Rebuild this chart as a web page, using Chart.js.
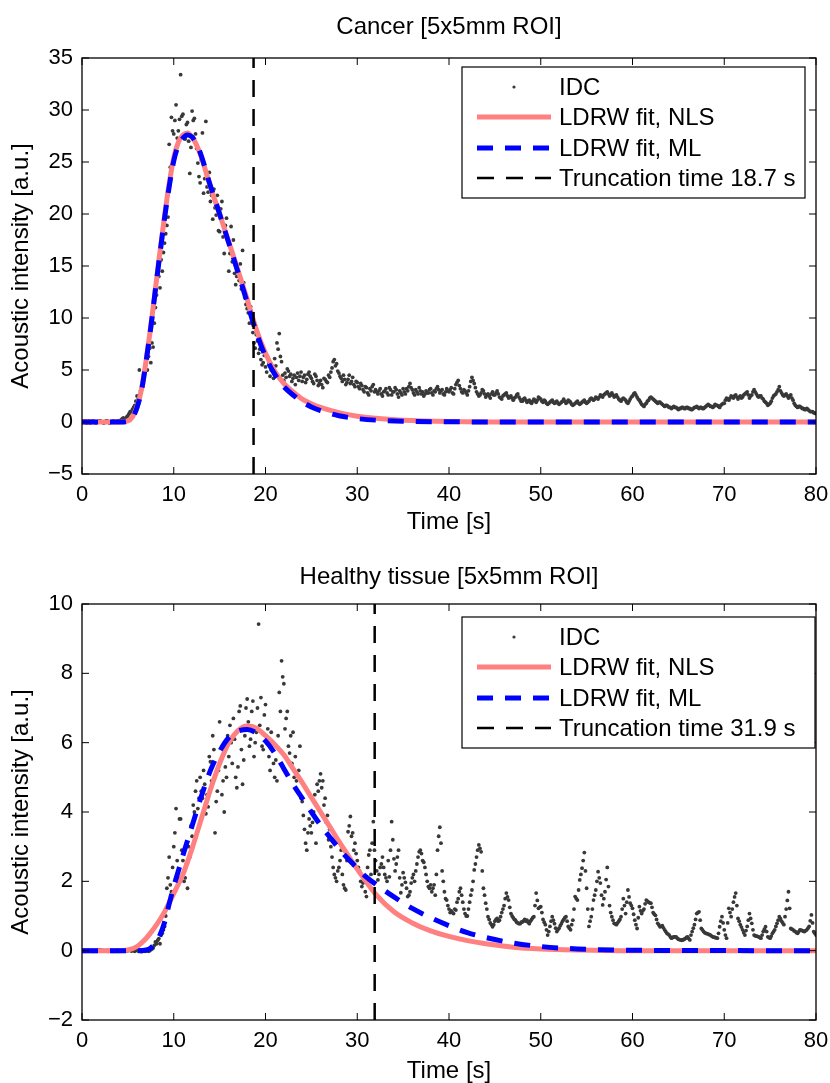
<!DOCTYPE html>
<html><head><meta charset="utf-8">
<script src="https://cdn.jsdelivr.net/npm/chart.js@4.4.1/dist/chart.umd.min.js"></script>
<style>
html,body{margin:0;padding:0;background:#fff;width:830px;height:1083px;overflow:hidden}
canvas{position:absolute;left:0;display:block}
#c1{top:0}
#c2{top:541px}
</style></head><body>
<canvas id="c1" width="830" height="541"></canvas>
<canvas id="c2" width="830" height="542"></canvas>
<script>
// ---------- DATA ----------
const SAMPLE_INTERVAL = 0.25;   // s between samples within one list
const SAMPLE_OFFSET_B = 0.125;  // second list of samples is shifted by half an interval
const xTicks = [0, 10, 20, 30, 40, 50, 60, 70, 80];
const yTicks1 = [-5, 0, 5, 10, 15, 20, 25, 30, 35];
const yTicks2 = [-2, 0, 2, 4, 6, 8, 10];
const titles = ['Cancer [5x5mm ROI]', 'Healthy tissue [5x5mm ROI]'];
const seriesNames = ['IDC', 'LDRW fit, NLS', 'LDRW fit, ML', 'Truncation time'];
const truncation = [18.7, 31.9];

// Cancer IDC at t = 0, 0.25, 0.5 ... (one row per second)
const idcCancerA = [
 0.1,0.0,-0.1,0.1,  0.0,0.1,-0.1,0.0,  0.1,0.0,0.0,0.1,  -0.1,0.0,0.1,0.0,
 0.1,0.2,0.4,0.3,   0.6,1.0,1.2,1.6,   2.5,5.0,3.3,4.3,  5.6,6.3,5.7,7.2,
 11.0,15.3,12.9,14.5, 17.2,18.9,26.7,29.3, 27.7,30.5,28.0,33.4, 29.6,27.2,28.8,23.9,
 29.9,29.2,26.3,23.6, 25.2,22.0,28.9,22.1, 21.2,19.5,20.6,21.8, 18.3,21.2,16.2,19.6,
 14.5,18.8,17.5,13.2, 14.6,15.2,16.5,12.0, 10.9,9.5,10.3,7.6, 8.4,6.6,6.0,5.7,
 5.3,6.2,4.4,5.2,  6.1,7.6,8.5,5.8,  4.0,4.3,4.9,4.6,  4.2,3.6,4.7,4.4,
 3.9,4.5,4.1,4.8,  4.2,3.7,4.4,3.5,  4.0,3.3,4.1,3.8,  4.3,5.2,6.0,5.6,
 4.7,4.2,4.5,3.6,  4.1,3.7,4.3,3.4,  3.8,3.2,3.5,2.9,  3.3,2.6,3.0,3.6,
 3.1,2.7,3.2,2.5,  3.0,2.8,3.3,2.6,  2.9,3.1,2.4,2.8,  3.2,2.7,3.0,3.7,
 3.1,2.6,2.9,3.3,  2.7,2.5,3.0,2.8,  3.2,2.6,2.9,3.4,  2.8,3.1,2.6,3.2,
 2.9,3.3,2.7,3.6,  4.0,3.2,2.8,3.0,  2.6,3.4,4.3,3.7,  2.9,2.5,2.8,3.0,
 2.4,2.7,2.3,2.9,  2.6,3.0,2.4,2.2,  2.6,2.8,2.3,2.5,  2.1,2.4,2.7,2.2,
 2.0,2.3,1.9,2.1,  1.8,2.2,1.9,2.4,  2.2,1.9,2.0,1.7,  1.9,2.1,1.8,2.0,
 1.7,1.9,2.2,1.8,  2.1,1.9,1.6,1.8,  2.0,1.7,1.9,2.1,  1.8,2.0,2.3,2.1,
 2.4,2.2,2.6,2.4,  2.7,2.9,2.5,2.8,  2.4,2.6,2.2,2.0,  2.3,2.1,1.8,2.2,
 2.5,2.8,2.4,2.1,  1.7,1.5,1.8,2.1,  2.4,2.2,2.0,1.8,  1.9,1.7,1.5,1.6,
 1.4,1.3,1.5,1.4,  1.2,1.3,1.4,1.3,  1.4,1.3,1.2,1.4,  1.5,1.3,1.4,1.3,
 1.5,1.7,1.5,1.4,  1.7,1.6,1.4,1.7,  1.8,2.3,2.1,2.5,  2.3,2.6,2.2,2.5,
 2.4,2.7,2.9,2.3,  2.6,3.1,2.7,2.4,  2.5,2.2,1.9,1.6,  1.8,2.3,2.6,2.9,
 3.4,2.8,2.5,2.7,  2.3,2.6,2.1,1.6,  1.4,1.5,1.3,1.2,  1.3,1.1,1.0,0.9,
 0.8
];
// Cancer IDC at t = 0.125, 0.375, 0.625 ... (one row per second)
const idcCancerB = [
 0.0,0.1,0.0,-0.1,  0.1,0.0,0.0,0.1,  0.0,-0.1,0.1,0.0,  0.0,0.1,0.0,0.1,
 0.0,0.3,0.2,0.5,   0.8,0.9,1.4,2.0,   2.2,3.0,4.0,4.8,  5.0,7.1,7.6,9.5,
 12.2,14.0,15.6,16.3, 18.1,19.7,24.5,28.0, 29.0,27.3,29.1,29.4, 27.6,28.6,27.0,26.4,
 29.0,27.7,24.9,23.0, 27.8,23.4,22.6,24.0, 21.8,22.4,19.9,18.4, 20.5,17.8,18.9,17.4,
 16.2,15.4,14.3,14.0, 13.6,12.8,13.4,11.3, 10.5,11.1,8.6,7.1, 7.8,7.0,5.5,6.4,
 4.8,5.6,5.0,4.2,  5.4,7.0,6.3,4.5,  4.7,5.1,4.4,3.9,  4.5,4.3,4.0,4.8,
 4.3,3.8,4.6,4.4,  3.9,4.6,4.0,3.7,  3.6,4.2,3.9,4.5,  4.8,5.8,5.4,4.9,
 4.4,3.9,4.1,3.8,  4.5,3.9,3.6,3.9,  3.4,3.7,3.1,3.4,  2.8,3.2,3.4,2.9,
 2.9,3.0,2.7,2.9,  3.2,2.6,3.1,2.9,  3.3,2.7,3.0,2.6,  2.9,3.2,3.4,3.3,
 2.8,3.1,2.7,3.0,  2.9,2.7,2.8,3.1,  2.8,3.0,3.2,3.1,  3.0,2.7,2.9,3.0,
 3.1,2.8,3.2,3.8,  3.5,2.9,3.1,2.8,  3.0,3.9,4.0,3.3,  2.7,2.6,3.1,2.7,
 2.6,2.5,2.7,2.6,  2.8,2.7,2.3,2.5,  2.7,2.5,2.4,2.3,  2.3,2.6,2.4,2.0,
 2.2,2.1,2.0,1.9,  2.0,2.1,2.1,2.3,  2.0,2.1,1.8,1.8,  2.0,1.9,1.9,1.8,
 1.8,2.0,2.0,1.9,  2.0,1.7,1.7,1.9,  1.8,1.8,2.0,1.9,  1.9,2.2,2.2,2.2,
 2.3,2.4,2.5,2.6,  2.8,2.7,2.6,2.6,  2.5,2.4,2.1,2.2,  2.2,1.9,2.0,2.4,
 2.7,2.6,2.2,1.9,  1.6,1.7,2.0,2.3,  2.3,2.1,1.9,1.9,  1.8,1.6,1.6,1.5,
 1.4,1.4,1.4,1.3,  1.3,1.4,1.3,1.4,  1.3,1.2,1.3,1.4,  1.4,1.4,1.3,1.4,
 1.6,1.6,1.5,1.5,  1.6,1.5,1.6,1.8,  2.1,2.2,2.3,2.4,  2.5,2.4,2.4,2.3,
 2.6,2.8,2.6,2.5,  2.9,2.9,2.5,2.5,  2.3,2.0,1.8,1.7,  2.0,2.5,2.7,3.1,
 3.0,2.6,2.6,2.5,  2.5,2.3,1.8,1.5,  1.5,1.4,1.3,1.2,  1.2,1.0,1.0,0.85
];

// Healthy tissue IDC at t = 0, 0.25, 0.5 ... (one row per second)
const idcHealthyA = [
 0.0,0.02,-0.01,0.01, 0.0,-0.02,0.01,0.0, 0.02,0.0,-0.01,0.01, 0.0,0.01,-0.02,0.0,
 0.01,0.0,0.02,-0.01, 0.0,0.03,0.01,-0.02, 0.02,0.0,-0.03,0.01, 0.0,-0.02,0.03,0.08,
 0.25,0.3,0.2,0.5,  0.7,1.8,2.7,1.7,  3.0,4.1,2.1,3.8,  2.6,2.1,1.8,2.7,
 3.3,4.0,4.9,4.4,  4.6,5.2,3.95,4.15, 5.45,6.2,3.4,4.6, 6.6,4.5,4.0,5.0,
 5.6,6.0,6.7,5.0,  5.3,7.06,4.8,6.2, 7.26,5.9,6.9,5.6, 6.3,9.42,7.3,5.8,
 7.1,6.4,5.2,5.8,  5.0,4.9,7.45,8.36, 7.7,6.7,5.9,6.2, 6.3,5.6,4.6,5.9,
 4.3,3.5,2.9,3.8,  3.4,4.0,3.1,4.6,  5.1,4.9,4.4,3.9,  3.5,2.7,2.2,2.0,
 2.4,2.9,1.9,1.75, 3.43,3.87,3.4,3.1, 2.6,2.3,1.85,2.1, 1.56,2.76,2.2,3.72,
 2.6,2.04,2.4,2.7, 2.2,2.0,2.13,3.72, 2.65,2.5,2.9,1.67, 2.25,1.97,1.56,1.7,
 2.1,2.0,2.5,2.85, 2.8,2.55,2.2,1.85, 1.9,1.8,1.6,2.9, 3.56,2.3,1.7,1.46,
 1.2,1.15,1.07,1.17, 1.5,1.8,1.4,1.07, 1.0,1.4,1.75,2.33, 2.7,3.05,2.85,1.8,
 1.37,0.98,0.8,0.69, 0.85,0.93,0.88,1.1, 1.3,1.66,1.46,1.07, 0.95,0.88,0.8,0.78,
 0.83,0.9,0.88,0.78, 0.9,0.98,1.66,1.22, 1.27,0.9,0.75,0.45, 0.7,0.98,0.78,0.55,
 0.65,0.78,0.9,0.98, 0.7,0.6,0.88,1.56, 1.46,2.04,2.38,2.83, 1.8,0.7,0.98,1.46,
 1.75,2.28,1.95,1.32, 1.7,2.4,1.3,0.98, 0.79,0.75,0.85,0.98, 1.5,1.07,1.75,1.37,
 1.22,0.88,0.64,1.27, 1.07,1.2,1.46,1.4, 1.37,1.1,1.02,0.79, 0.69,0.72,0.6,0.5,
 0.45,0.36,0.4,0.4, 0.33,0.31,0.31,0.35, 0.4,0.31,0.55,0.75, 1.07,1.12,0.64,0.55,
 0.5,0.48,0.45,0.4, 0.38,0.36,0.69,0.98, 0.6,0.36,1.22,0.98, 1.4,1.66,0.93,0.75,
 0.6,0.45,0.7,1.07, 0.79,0.45,0.42,0.4, 0.36,0.55,0.69,0.4, 0.36,0.5,0.6,0.79,
 0.98,0.85,0.75,1.2, 1.7,0.64,0.6,0.55, 0.5,0.6,0.58,0.55, 0.6,0.7,1.03,0.55,
 0.45
];
// Healthy tissue IDC at t = 0.125, 0.375, 0.625 ... (one row per second)
const idcHealthyB = [
 0.01,0.0,0.02,-0.01, 0.01,0.0,-0.01,0.02, 0.0,0.01,0.0,-0.02, 0.01,-0.01,0.0,0.02,
 0.0,-0.01,0.01,0.0, 0.02,-0.01,0.0,0.01, -0.01,0.02,0.0,-0.02, 0.01,0.0,0.05,0.15,
 0.2,0.35,0.45,0.6,  1.0,2.1,1.9,2.4,  3.4,2.6,3.8,2.9,  2.0,2.5,3.0,3.6,
 4.2,4.6,4.1,5.0,  4.4,4.8,4.5,5.6,  4.9,5.8,4.3,5.2,  5.5,4.9,5.3,6.2,
 6.5,5.4,6.1,4.7,  6.9,5.8,5.5,7.0,  6.6,6.1,7.2,6.0,  7.0,6.5,5.9,6.8,
 6.0,5.6,6.3,5.4,  5.5,6.2,6.9,7.9,  6.4,6.9,5.7,5.4,  5.0,4.9,5.2,4.4,
 3.9,3.1,3.4,3.6,  3.7,4.5,4.8,4.9,  4.7,4.2,3.7,3.2,  3.0,2.4,2.1,2.3,
 2.6,2.2,1.8,2.6,  3.6,3.3,2.9,2.8,  2.4,2.0,1.95,1.7, 2.4,2.9,3.1,2.9,
 2.3,2.2,2.5,2.4,  2.1,2.6,2.9,3.2,  2.3,2.7,2.1,1.9,  2.1,1.8,1.6,1.95,
 2.2,2.3,2.7,2.9,  2.6,2.4,2.0,1.8,  1.7,1.9,2.2,3.3,  3.1,2.0,1.5,1.3,
 1.1,1.1,1.2,1.4,  1.7,1.6,1.2,1.0,  1.2,1.6,2.0,2.5,  2.9,2.95,2.3,1.6,
 1.2,0.9,0.75,0.75, 0.9,0.85,0.98,1.2, 1.5,1.55,1.25,1.0, 0.9,0.82,0.78,0.82,
 0.86,0.85,0.82,0.85, 0.95,1.3,1.45,1.25, 1.1,0.82,0.6,0.55, 0.85,0.88,0.65,0.6,
 0.72,0.85,0.95,0.85, 0.65,0.75,1.2,1.5, 1.75,2.2,2.6,2.3, 1.2,0.85,1.2,1.6,
 2.0,2.1,1.6,1.5,  2.05,1.85,1.1,0.88, 0.77,0.8,0.9,1.2, 1.3,1.4,1.55,1.3,
 1.05,0.75,0.95,1.15, 1.15,1.35,1.43,1.38, 1.25,1.05,0.9,0.74, 0.7,0.66,0.55,0.48,
 0.4,0.38,0.4,0.36, 0.32,0.3,0.33,0.38, 0.35,0.45,0.65,0.9, 1.1,0.88,0.6,0.52,
 0.49,0.46,0.42,0.39, 0.37,0.5,0.85,0.8, 0.45,0.8,1.1,1.2, 1.55,1.3,0.85,0.68,
 0.52,0.58,0.88,0.93, 0.6,0.43,0.41,0.38, 0.45,0.62,0.55,0.38, 0.42,0.55,0.7,0.88,
 0.92,0.8,0.98,1.45, 1.22,0.62,0.57,0.52, 0.55,0.59,0.56,0.58, 0.65,0.86,0.8,0.5
];

// Fitted curves
const fitTimesCancer = [0,4,5,5.5,6,6.5,7,7.5,8,8.5,9,9.5,10,10.5,11,11.5,12,12.5,13,14,15,16,17,18,19,20,21,22,23,24,25,26,28,30,32,35,40,50,80];
const nlsCancer = [0,0,0.1,0.5,1.5,3.2,6.0,9.2,12.8,16.4,19.8,22.9,25.4,26.9,27.6,27.8,27.4,26.6,25.5,22.6,20.0,17.3,14.6,11.8,8.9,6.6,4.9,3.7,2.9,2.2,1.75,1.4,0.9,0.55,0.35,0.18,0.06,0.01,0];
const mlCancer  = [0,0,0.05,0.4,1.4,3.1,5.9,9.1,12.7,16.2,19.6,22.6,25.1,26.6,27.3,27.6,27.4,26.7,25.6,22.7,20.0,17.2,14.4,11.5,8.6,6.3,4.6,3.4,2.6,1.95,1.45,1.1,0.6,0.33,0.18,0.08,0.02,0,0];

const fitTimesHealthy = [0,4,5,6,7,7.5,8,8.5,9,9.5,10,10.5,11,12,13,14,15,16,17,18,19,20,21,22,23,24,25,26,27,28,29,30,31,32,34,36,38,40,42,44,47,50,54,60,80];
const nlsHealthy = [0,0,0.02,0.12,0.36,0.52,0.7,0.9,1.12,1.38,1.65,1.92,2.2,2.95,3.8,4.65,5.4,6.0,6.35,6.48,6.42,6.2,5.95,5.65,5.25,4.85,4.42,4.0,3.58,3.15,2.75,2.35,1.98,1.63,1.12,0.8,0.57,0.41,0.29,0.2,0.1,0.05,0.02,0,0];
const mlHealthy  = [0,0,0,0,0.02,0.08,0.22,0.45,0.82,1.35,1.85,2.3,2.75,3.6,4.45,5.2,5.75,6.15,6.33,6.38,6.28,6.05,5.7,5.25,4.8,4.4,4.0,3.62,3.28,2.95,2.65,2.38,2.12,1.92,1.55,1.22,0.95,0.72,0.52,0.38,0.22,0.12,0.05,0.01,0];

// ---------- RENDERING ----------
const FONT = '"Liberation Sans", Arial, Helvetica, sans-serif';

function sampled(values, offset) { return values.map((v, i) => ({ x: offset + i * SAMPLE_INTERVAL, y: v })); }
function merged(a, b) { return sampled(a, 0).concat(sampled(b, SAMPLE_OFFSET_B)).sort((p, q) => p.x - q.x); }
function paired(ts, vs) { return ts.map((t, i) => ({ x: t, y: vs[i] })); }
function fmt(v) { return v < 0 ? '\u2212' + Math.abs(v) : String(v); }

const matlabFrame = {
  id: 'matlabFrame',
  afterDraw(chart, args, opts) {
    const { ctx, chartArea: a } = chart;
    const xs = chart.scales.x, ys = chart.scales.y;
    ctx.save();
    ctx.strokeStyle = '#000';
    ctx.lineWidth = 1.3;
    ctx.strokeRect(a.left, a.top, a.right - a.left, a.bottom - a.top);
    const L = 7;
    ctx.lineWidth = 1;
    ctx.beginPath();
    xs.ticks.forEach(t => {
      const px = xs.getPixelForValue(t.value);
      ctx.moveTo(px, a.bottom); ctx.lineTo(px, a.bottom - L);
      ctx.moveTo(px, a.top); ctx.lineTo(px, a.top + L);
    });
    ys.ticks.forEach(t => {
      const py = ys.getPixelForValue(t.value);
      ctx.moveTo(a.left, py); ctx.lineTo(a.left + L, py);
      ctx.moveTo(a.right, py); ctx.lineTo(a.right - L, py);
    });
    ctx.stroke();

    // legend box
    const lg = opts.box;
    if (lg) {
      ctx.fillStyle = '#fff';
      ctx.fillRect(lg.x, lg.y, lg.w, lg.h);
      ctx.lineWidth = 1.2;
      ctx.strokeStyle = '#000';
      ctx.strokeRect(lg.x, lg.y, lg.w, lg.h);
      const ds = chart.data.datasets;
      const rowY = [20, 50, 81, 111];
      ctx.font = '24px ' + FONT;
      ctx.textBaseline = 'middle';
      ctx.textAlign = 'left';
      ds.forEach((d, i) => {
        const cy = lg.y + rowY[i];
        const x0 = lg.x + 15, x1 = lg.x + 89;
        if (i === 0) {
          ctx.fillStyle = d.pointBackgroundColor;
          ctx.beginPath(); ctx.arc(lg.x + 52, cy, 1.6, 0, Math.PI * 2); ctx.fill();
        } else {
          ctx.save();
          ctx.strokeStyle = d.borderColor;
          ctx.lineWidth = d.borderWidth;
          ctx.setLineDash(d.borderDash || []);
          ctx.beginPath(); ctx.moveTo(x0, cy); ctx.lineTo(x1, cy); ctx.stroke();
          ctx.restore();
        }
        ctx.fillStyle = '#000';
        ctx.fillText(d.label, lg.x + 97, cy + 1);
      });
    }
    ctx.restore();
  }
};

function noSidePadding(s) { s.paddingLeft = 0; s.paddingRight = 0; }

function makeChart(id, c) {
  return new Chart(document.getElementById(id), {
    type: 'scatter',
    data: {
      datasets: [
        { label: seriesNames[0], type: 'scatter', data: merged(c.idcA, c.idcB), showLine: false,
          pointRadius: 1.9, pointBackgroundColor: '#383838', pointBorderWidth: 0, order: 4 },
        { label: seriesNames[1], type: 'line', data: paired(c.fitT, c.nls), showLine: true,
          borderColor: '#ff8080', borderWidth: 5, pointRadius: 0, cubicInterpolationMode: 'monotone', fill: false, order: 3 },
        { label: seriesNames[2], type: 'line', data: paired(c.fitT, c.ml), showLine: true,
          borderColor: '#0000ff', borderWidth: 5, borderDash: [16, 12], pointRadius: 0, cubicInterpolationMode: 'monotone', fill: false, order: 2 },
        { label: seriesNames[3] + ' ' + c.trunc + ' s', type: 'line',
          data: [{ x: c.trunc, y: c.yTicks[0] }, { x: c.trunc, y: c.yTicks[c.yTicks.length - 1] }], showLine: true,
          borderColor: '#000', borderWidth: 2.5, borderDash: [17, 12], pointRadius: 0, fill: false, order: 1 }
      ]
    },
    options: {
      responsive: false, animation: false, devicePixelRatio: 1,
      layout: { padding: { top: 0, right: 14, bottom: 0, left: 0 } },
      plugins: {
        legend: { display: false }, tooltip: { enabled: false }, title: { display: false },
        matlabFrame: { box: c.legendBox }
      },
      scales: {
        x: {
          type: 'linear', position: 'bottom', min: xTicks[0], max: xTicks[xTicks.length - 1],
          afterFit(s) { s.height = c.xAxisHeight; noSidePadding(s); },
          afterBuildTicks(s) { s.ticks = xTicks.map(v => ({ value: v })); },
          grid: { display: false, drawTicks: false }, border: { display: false },
          ticks: { color: '#000', font: { family: FONT, size: 22 }, padding: 8, maxRotation: 0, autoSkip: false, callback: fmt },
          title: { display: true, text: 'Time [s]', color: '#000', font: { family: FONT, size: 24, lineHeight: 1 },
            padding: { top: 0, bottom: c.xTitlePad } }
        },
        xTop: {
          type: 'linear', position: 'top', min: xTicks[0], max: xTicks[xTicks.length - 1],
          afterFit(s) { s.height = c.topHeight; noSidePadding(s); },
          grid: { display: false, drawTicks: false }, border: { display: false },
          ticks: { display: false },
          title: { display: true, text: c.title, color: '#000', font: { family: FONT, size: 24, lineHeight: 1.2 },
            padding: { top: c.titlePadTop, bottom: 0 } }
        },
        y: {
          type: 'linear', min: c.yTicks[0], max: c.yTicks[c.yTicks.length - 1],
          afterFit(s) { s.width = 82; },
          afterBuildTicks(s) { s.ticks = c.yTicks.map(v => ({ value: v })); },
          grid: { display: false, drawTicks: false }, border: { display: false },
          ticks: { color: '#000', font: { family: FONT, size: 22 }, padding: 9, autoSkip: false, callback: fmt },
          title: { display: true, text: 'Acoustic intensity [a.u.]', color: '#000', font: { family: FONT, size: 24, lineHeight: 1 },
            padding: { top: 9, bottom: 0 } }
        }
      }
    },
    plugins: [matlabFrame]
  });
}

makeChart('c1', {
  title: titles[0], idcA: idcCancerA, idcB: idcCancerB, fitT: fitTimesCancer, nls: nlsCancer, ml: mlCancer,
  trunc: truncation[0], yTicks: yTicks1,
  topHeight: 58, titlePadTop: 12.8, xAxisHeight: 67, xTitlePad: 7,
  legendBox: { x: 462, y: 67, w: 343, h: 131 }
});
makeChart('c2', {
  title: titles[1], idcA: idcHealthyA, idcB: idcHealthyB, fitT: fitTimesHealthy, nls: nlsHealthy, ml: mlHealthy,
  trunc: truncation[1], yTicks: yTicks2,
  topHeight: 63, titlePadTop: 21.6, xAxisHeight: 63, xTitlePad: 0,
  legendBox: { x: 462, y: 76, w: 353, h: 131 }
});
</script></body></html>
